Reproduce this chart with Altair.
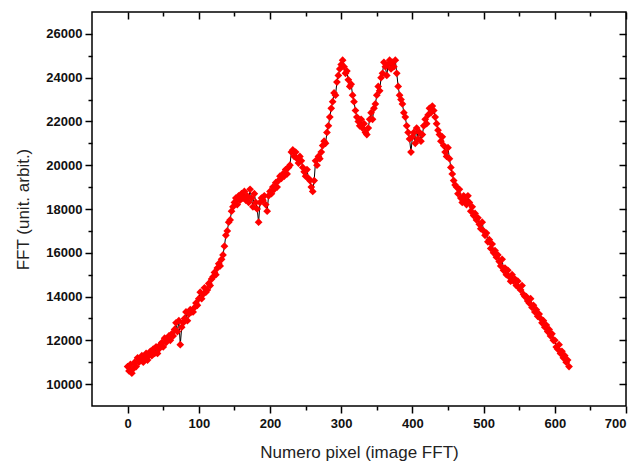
import altair as alt
import pandas as pd

# pixel index (every 2nd pixel) and FFT amplitude
pixel = list(range(0, 621, 2))
fft = [
    10800, 10600, 10900, 10500, 10700, 11000, 10800, 11200, 11000, 11100,
    11300, 11000, 11200, 11400, 11100, 11300, 11500, 11300, 11600, 11400,
    11700, 11400, 11600, 11800, 11900, 11700, 12100, 11900, 12000, 12200,
    12000, 12300, 12200, 12500, 12800, 12400, 12900, 11800, 12600, 12800,
    13000, 13300, 12900, 13200, 13400, 13300, 13300, 13500, 13700, 13600,
    13900, 14200, 13900, 14100, 14400, 14200, 14300, 14600, 14500, 14800,
    14900, 15100, 15000, 15300, 15500, 15400, 15700, 15900, 16300, 16800,
    17000, 17400, 17500, 17900, 18100, 18300, 18500, 18200, 18600, 18400,
    18700, 18500, 18800, 18400, 18600, 18300, 18900, 18500, 18100, 18700,
    18300, 18000, 17400, 18300, 18500, 18400, 18600, 18200, 17900, 18600,
    18800, 18700, 19000, 18900, 19200, 19000, 19300, 19500, 19400, 19600,
    19500, 19800, 19600, 19900, 20000, 20600, 20700, 20400, 20600, 20300,
    20100, 20400, 20200, 19900, 19700, 19500, 19800, 19400, 19300, 19000,
    18800, 19300, 20200, 20000, 20400, 20300, 20600, 20900, 21100, 21000,
    21500, 21800, 22200, 22600, 22900, 23300, 23200, 23800, 24100, 24400,
    24600, 24800, 24500, 24200, 24300, 23900, 23600, 23700, 23200, 22900,
    22500, 22200, 22000, 21800, 22100, 21700, 21900, 21500, 21400, 21700,
    22100, 22400, 22100, 22600, 22800, 23200, 23600, 23400, 24000, 24200,
    24700, 24500, 24100, 24600, 24800, 24400, 24700, 24500, 24800, 24200,
    23600, 23200, 23000, 22800, 22400, 22200, 21800, 21500, 21200, 20600,
    21300, 21500, 21000, 21700, 21200, 21500, 21100, 21400, 21800, 22100,
    21900, 22300, 22600, 22400, 22700, 22500, 22200, 21900, 21600, 21400,
    21100, 21300, 20900, 20600, 20400, 20800, 20300, 19900, 19600, 19300,
    19100, 19000, 18700, 18900, 18500, 18300, 18600, 18400, 18200, 18600,
    18300, 17900, 18100, 17700, 17800, 17500, 17600, 17300, 17100, 17400,
    17000, 16800, 16900, 16500, 16600, 16200, 16400, 16000, 16100, 15800,
    15900, 15600, 15400, 15700, 15200, 15300, 15000, 15200, 14900, 14700,
    15000, 14700, 14800, 14500, 14700, 14400, 14300, 14500, 14100, 14000,
    14000, 13800, 13700, 13900, 13500, 13600, 13300, 13400, 13100, 13200,
    13000, 12800, 12900, 12600, 12700, 12400, 12500, 12200, 12300, 12000,
    12000, 11700, 11600, 11800, 11400, 11500, 11200, 11300, 11000, 11100,
    10800,
]

x_major = [0, 100, 200, 300, 400, 500, 600, 700]
x_minor = [50, 150, 250, 350, 450, 550, 650]
y_major = [10000, 12000, 14000, 16000, 18000, 20000, 22000, 24000, 26000]
y_minor = [11000, 13000, 15000, 17000, 19000, 21000, 23000, 25000]

df = pd.DataFrame({"pixel": pixel, "fft": fft})

xs = alt.Scale(domain=[-50, 700], nice=False, zero=False)
ys = alt.Scale(domain=[9000, 27000], nice=False, zero=False)

FONT = "Liberation Sans"
tick_common = dict(grid=False, tickColor="black", tickWidth=1.5, domain=False)


def ax(orient, values, size, offset=0):
    return alt.Axis(orient=orient, values=values, tickSize=size, labels=False,
                    title=None, offset=offset, **tick_common)


main_x = alt.Axis(orient="bottom", values=x_major, tickSize=7, labelFont=FONT,
                  labelFontSize=13, labelFontWeight="bold", labelColor="#111",
                  labelPadding=4, title="Numero pixel (image FFT)",
                  titleFont=FONT, titleFontSize=17, titleFontWeight="normal",
                  titleColor="#222", titlePadding=14, format="d", **tick_common)
main_y = alt.Axis(orient="left", values=y_major, tickSize=7, labelFont=FONT,
                  labelFontSize=13, labelFontWeight="bold", labelColor="#111",
                  labelPadding=3, title="FFT (unit. arbit.)",
                  titleFont=FONT, titleFontSize=17, titleFontWeight="normal",
                  titleColor="#222", titlePadding=13, format="d", **tick_common)

base = alt.Chart(df)

line = base.mark_line(color="black", strokeWidth=1).encode(
    x=alt.X("pixel:Q", scale=xs, axis=main_x),
    y=alt.Y("fft:Q", scale=ys, axis=main_y),
)
points = base.mark_point(shape="diamond", filled=True, color="#ff0000",
                         size=60, opacity=1).encode(
    x=alt.X("pixel:Q", scale=xs, axis=None),
    y=alt.Y("fft:Q", scale=ys, axis=None),
)
g1 = base.mark_point(opacity=0).encode(
    x=alt.X("pixel:Q", scale=xs, axis=ax("bottom", x_minor, 4)),
    y=alt.Y("fft:Q", scale=ys, axis=ax("left", y_minor, 4)),
)
g2 = base.mark_point(opacity=0).encode(
    x=alt.X("pixel:Q", scale=xs, axis=ax("top", x_major, 7, -7)),
    y=alt.Y("fft:Q", scale=ys, axis=ax("right", y_major, 7, -7)),
)
g3 = base.mark_point(opacity=0).encode(
    x=alt.X("pixel:Q", scale=xs, axis=ax("top", x_minor, 4, -4)),
    y=alt.Y("fft:Q", scale=ys, axis=ax("right", y_minor, 4, -4)),
)

chart = alt.layer(line, points, g1, g2, g3).resolve_axis(
    x="independent", y="independent"
).properties(
    width=534, height=394,
    autosize=alt.AutoSizeParams(type="none"),
    padding={"left": 84, "top": 4, "right": 4, "bottom": 56},
    background="white",
).configure_view(stroke="black", strokeWidth=1.5)

chart.save("out.html", embed_options={"renderer": "svg", "actions": False})
